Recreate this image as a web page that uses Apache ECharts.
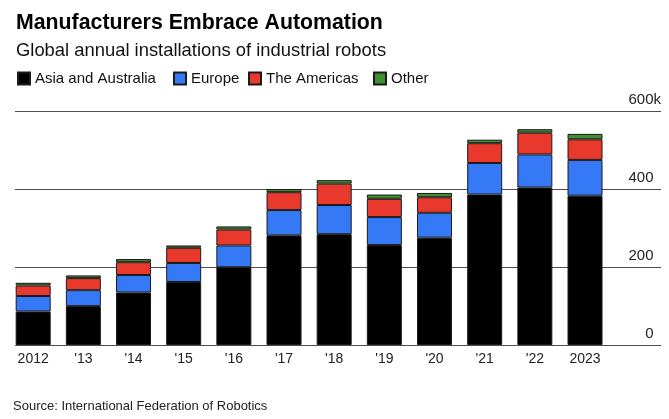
<!DOCTYPE html>
<html>
<head>
<meta charset="utf-8">
<script src="https://cdn.jsdelivr.net/npm/echarts@6/dist/echarts.min.js"></script>
<style>
  html, body { margin: 0; padding: 0; background: #fff; }
  #chart { width: 669px; height: 419px; }
</style>
</head>
<body>
<div id="chart"></div>
<script>
// Data (thousands of units)
var years = ['2012', "'13", "'14", "'15", "'16", "'17", "'18", "'19", "'20", "'21", "'22", '2023'];
var asia = [86, 100, 135, 162, 200, 282, 285, 257, 276, 387, 405, 384];
var europe = [40, 41, 45, 49, 56, 65, 75, 72, 64, 81, 85, 92];
var americas = [27, 31, 33, 39, 41, 46, 55, 47, 40, 51, 56, 53];
var other = [7, 7, 8, 6, 8, 8, 9, 11, 11, 9, 9, 14];
var seriesNames = ['Asia and Australia', 'Europe', 'The Americas', 'Other'];
var yTicks = [0, 200, 400, 600];

var FONT = '"Liberation Sans", Arial, Helvetica, sans-serif';
var colors = ['#000000', '#3579f6', '#e9382c', '#3f8f30'];
var seriesData = [asia, europe, americas, other];

var chart = echarts.init(document.getElementById('chart'), null, { renderer: 'canvas' });

var legendLefts = [17, 173, 248, 373];

var option = {
  animation: false,
  textStyle: { fontFamily: FONT },
  title: [
    { text: 'Manufacturers Embrace Automation', left: 16, top: 13, padding: 0,
      textStyle: { fontFamily: FONT, fontSize: 21.3, fontWeight: 'bold', color: '#000' } },
    { text: 'Global annual installations of industrial robots', left: 16, top: 41.5, padding: 0,
      textStyle: { fontFamily: FONT, fontSize: 18.4, fontWeight: 'normal', color: '#111' } },
    { text: 'Source: International Federation of Robotics', left: 13, top: 400, padding: 0,
      textStyle: { fontFamily: FONT, fontSize: 13, fontWeight: 'normal', color: '#222' } }
  ],
  legend: seriesNames.map(function (n, i) {
    return {
      data: [n], left: legendLefts[i], top: 71, icon: 'rect',
      itemWidth: 12, itemHeight: 12, itemGap: 0, padding: 0,
      textStyle: { fontFamily: FONT, fontSize: 15, color: '#111' },
      selectedMode: false
    };
  }),
  grid: [
    { left: 15, right: 8, top: 111.7, bottom: 74 },
    { left: 8.1, right: 58.9, top: 111.7, bottom: 74 }
  ],
  xAxis: [
    { gridIndex: 0, type: 'value', min: 0, max: 1, show: false },
    { gridIndex: 1, type: 'category', data: years,
      axisLine: { show: false }, axisTick: { show: false },
      axisLabel: { fontFamily: FONT, fontSize: 14, color: '#222', margin: 7, interval: 0 } }
  ],
  yAxis: [
    { gridIndex: 0, type: 'value', position: 'right', min: yTicks[0], max: yTicks[yTicks.length - 1], interval: 200,
      axisLine: { show: false }, axisTick: { show: false },
      splitLine: { show: true, lineStyle: { color: '#4d4d4d', width: 1 } },
      axisLabel: {
        inside: true, margin: 0, verticalAlign: 'bottom', padding: [0, 0, 4, 0],
        fontFamily: FONT, fontSize: 15, color: '#222',
        formatter: function (v) { return v === 600 ? '600k' : v + '{h|k}'; },
        rich: { h: { color: 'rgba(0,0,0,0)', fontFamily: FONT, fontSize: 15 } }
      } },
    { gridIndex: 1, type: 'value', min: yTicks[0], max: yTicks[yTicks.length - 1], show: false }
  ],
  series: seriesNames.map(function (n, i) {
    return {
      name: n, type: 'bar', stack: 'total', xAxisIndex: 1, yAxisIndex: 1,
      barWidth: 35, data: seriesData[i],
      itemStyle: { color: colors[i], borderColor: '#1a1a1a', borderWidth: 1 }
    };
  })
};

chart.setOption(option);
</script>
</body>
</html>
